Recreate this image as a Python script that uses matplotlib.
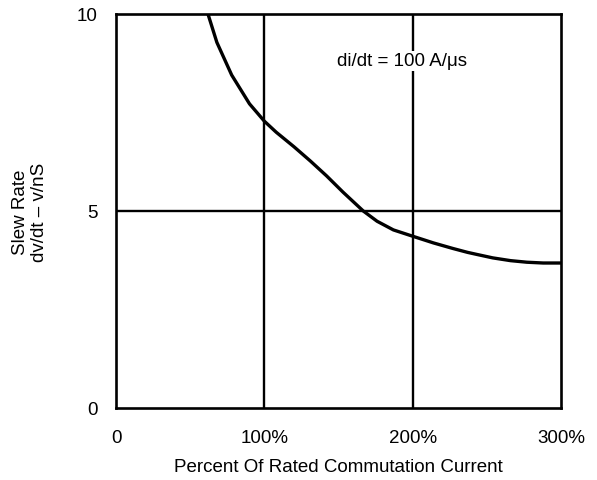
import matplotlib
matplotlib.use('Agg')
import matplotlib.pyplot as plt

plt.rcParams['font.family'] = ['Liberation Sans', 'DejaVu Sans']

# curve (percent of rated current, slew rate v/nS)
percentCurrent = [62, 68, 78, 90, 100, 108, 120, 131, 142, 153, 166.7, 176, 187,
                  200, 214, 227, 237, 243, 254, 266, 277, 288, 300]
slewRate = [10.0, 9.28, 8.45, 7.72, 7.28, 7.0, 6.63, 6.27, 5.89, 5.48, 5.0, 4.74, 4.52,
            4.36, 4.19, 4.05, 3.95, 3.90, 3.81, 3.74, 3.70, 3.68, 3.68]

xTicks = [0, 100, 200, 300]
xTickLabels = ['0', '100%', '200%', '300%']
yTicks = [0, 5, 10]
yTickLabels = ['0', '5', '10']

fig = plt.figure(figsize=(5.97, 4.81), dpi=100)
ax = fig.add_axes([116 / 597, 1 - 409 / 481, 445 / 597, 394 / 481])

# grid lines
for gx in [100, 200]:
    ax.axvline(gx, color='black', lw=1.7, zorder=1)
ax.axhline(5, color='black', lw=1.7, zorder=1)

ax.plot(percentCurrent, slewRate, color='black', lw=2.4, zorder=3,
        solid_capstyle='butt', solid_joinstyle='round')

ax.text(193, 8.81, 'di/dt = 100 A/\u03bcs', fontsize=13.5, ha='center', va='center',
        bbox=dict(facecolor='white', edgecolor='none', pad=1), zorder=2)

ax.set_xlim(0, 300)
ax.set_ylim(0, 10)
ax.set_xticks(xTicks)
ax.set_xticklabels(xTickLabels)
ax.set_yticks(yTicks)
ax.set_yticklabels(yTickLabels)
ax.tick_params(length=0, labelsize=13.5)
ax.tick_params(axis='x', pad=15)
ax.tick_params(axis='y', pad=13)
for s in ax.spines.values():
    s.set_linewidth(1.9)

ax.set_xlabel('Percent Of Rated Commutation Current', fontsize=13.5, va='center')
ax.xaxis.set_label_coords(0.5, (409 - 468) / 394)
ax.set_ylabel('Slew Rate\ndv/dt \u2013 v/nS', fontsize=13.5, va='center', linespacing=1.1)
ax.yaxis.set_label_coords((30 - 116) / 445, 0.5)

plt.savefig('out.png', dpi=100)
